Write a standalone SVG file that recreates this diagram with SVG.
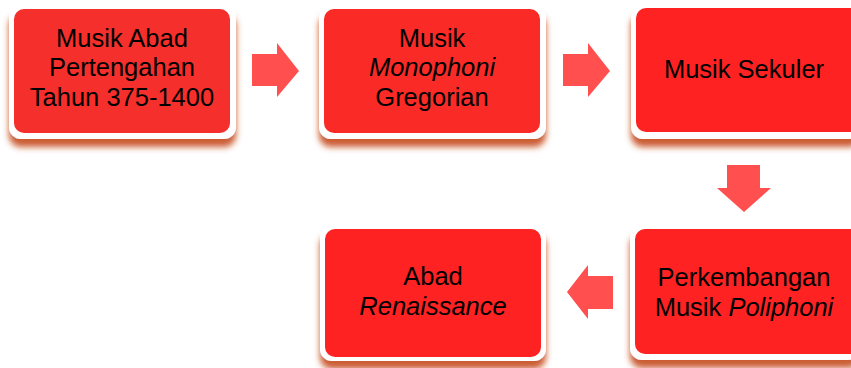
<svg xmlns="http://www.w3.org/2000/svg" width="851" height="368" viewBox="0 0 851 368">
<defs>
<filter id="sh" x="-10%" y="-10%" width="120%" height="130%">
<feDropShadow dx="0" dy="8" stdDeviation="3" flood-color="#c2400f" flood-opacity="0.85"/>
</filter>
<style>
.frame{fill:#ffffff;filter:url(#sh)}
.box{stroke:none}
.t{font-family:"Liberation Sans",Arial,sans-serif;font-size:25.5px;fill:#000;text-anchor:middle}
.i{font-style:italic}
.arr{fill:#ff4f4f}
</style>
</defs>
<rect width="851" height="368" fill="#ffffff"/>
<g id="connectors">
<polygon class="arr" points="252,54 277,54 277,43 299,71 277,97 277,86 252,86"/>
<polygon class="arr" points="563,54 588,54 588,43 610,71 588,97 588,86 563,86"/>
<polygon class="arr" points="727,165 760,165 760,188 771,188 744,212 717,188 727,188"/>
<polygon class="arr" points="613,276 588,276 588,265 567,292 588,319 588,309 613,309"/>
</g>
<g id="node1">
<rect class="frame" x="9" y="6" width="227" height="133" rx="12"/>
<rect class="box" x="14" y="9" width="216" height="124" rx="10" fill="#f52f2b"/>
<text class="t" x="122" y="47">Musik Abad</text>
<text class="t" x="122" y="76">Pertengahan</text>
<text class="t" x="122" y="105.5">Tahun 375-1400</text>
</g>
<g id="node2">
<rect class="frame" x="319" y="6" width="227" height="133" rx="12"/>
<rect class="box" x="324" y="9" width="216" height="124" rx="10" fill="#fa2b27"/>
<text class="t" x="432" y="47">Musik</text>
<text class="t i" x="432" y="76">Monophoni</text>
<text class="t" x="432" y="105.5">Gregorian</text>
</g>
<g id="node3">
<rect class="frame" x="631" y="6" width="230" height="133" rx="12"/>
<rect class="box" x="636" y="8" width="230" height="124" rx="10" fill="#fe2222"/>
<text class="t" x="744" y="78">Musik Sekuler</text>
</g>
<g id="node4">
<rect class="frame" x="630" y="226" width="230" height="134" rx="12"/>
<rect class="box" x="635" y="229" width="230" height="125" rx="10" fill="#fe2222"/>
<text class="t" x="744" y="286">Perkembangan</text>
<text class="t" x="744" y="315.5">Musik <tspan class="i">Poliphoni</tspan></text>
</g>
<g id="node5">
<rect class="frame" x="320" y="226" width="226" height="135" rx="12"/>
<rect class="box" x="325" y="229" width="216" height="128" rx="10" fill="#fe2222"/>
<text class="t" x="433" y="285">Abad</text>
<text class="t i" x="433" y="314.5">Renaissance</text>
</g>
</svg>
